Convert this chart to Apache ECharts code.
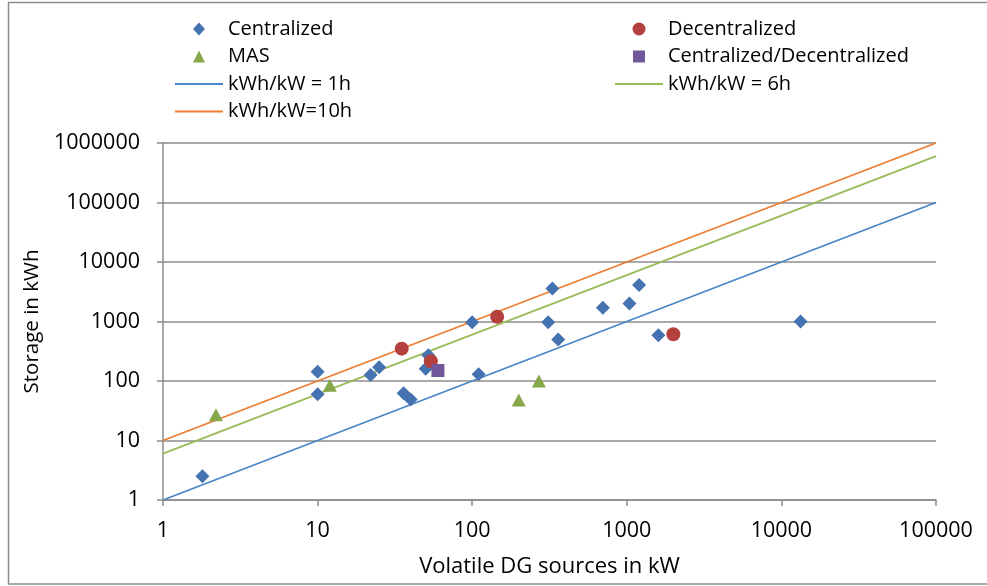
<!DOCTYPE html>
<html>
<head>
<meta charset="utf-8">
<title>Storage vs. volatile DG sources</title>
<script src="https://cdn.jsdelivr.net/npm/echarts@6/dist/echarts.min.js"></script>
<style>
  html, body { margin: 0; padding: 0; background: #fff; }
  #chart { width: 987px; height: 586px; }
</style>
</head>
<body>
<div id="chart"></div>
<script>
// Installed volatile DG capacity (kW) vs. storage (kWh), per project type
const centralized = [
  [1.8, 2.5], [10, 143], [10, 60], [22, 126], [25, 170], [36, 62], [40, 49],
  [52, 270], [50, 160], [100, 970], [110, 130], [330, 3600], [310, 970],
  [360, 500], [700, 1700], [1040, 2000], [1200, 4100], [1600, 590], [13300, 1000]
];
const decentralized = [[35, 350], [54, 215], [145, 1200], [2000, 610]];
const mas = [[2.2, 27], [12, 85], [200, 48], [270, 100]];
const mixed = [[60, 150]];

// Reference ratios storage/power (hours), drawn across the full x range
const xRange = [1, 100000];
const ratio1h = 1;
const ratio6h = 6;
const ratio10h = 10;

const xTicks = ['1', '10', '100', '1000', '10000', '100000'];
const yTicks = ['1', '10', '100', '1000', '10000', '100000', '1000000'];

const ratioLine = r => xRange.map(x => [x, x * r]);

const FONT = 'Open Sans';
const GRID_COLOR = '#8c8c8c';

// Legend icons: a 48x14 box (the corner moves pin the box size) holding
// either a centred marker or a thin horizontal stroke.
const BOX = 'M0,0 L0,0 M48,14 L48,14 ';
const ICON = {
  diamond: 'path://' + BOX + 'M24,0.5 L30,7 L24,13.5 L18,7 Z',
  circle: 'path://' + BOX + 'M30.5,7 A6.5,6.5 0 1 1 17.5,7 A6.5,6.5 0 1 1 30.5,7 Z',
  triangle: 'path://' + BOX + 'M24,1 L30,13 L18,13 Z',
  square: 'path://' + BOX + 'M18,1 L30,1 L30,13 L18,13 Z',
  stroke: 'path://' + BOX + 'M0,6 L48,6 L48,8 L0,8 Z'
};

const chart = echarts.init(document.getElementById('chart'), null, { renderer: 'canvas' });

const legendText = { fontFamily: FONT, fontSize: 20, color: '#000', lineHeight: 18 };

chart.setOption({
  animation: false,
  backgroundColor: '#fff',
  textStyle: { fontFamily: FONT },
  graphic: [{
    type: 'rect',
    shape: { x: 8.5, y: 2.5, width: 990, height: 581.5 },
    style: { fill: 'none', stroke: '#8c8c8c', lineWidth: 1.5 },
    silent: true
  }],
  legend: [
    {
      left: 170, top: 14, orient: 'vertical',
      itemWidth: 48, itemHeight: 14, itemGap: 7.5,
      textStyle: legendText,
      data: [
        { name: 'Centralized', icon: ICON.diamond },
        { name: 'MAS', icon: ICON.triangle },
        { name: 'kWh/kW = 1h', icon: ICON.stroke },
        { name: 'kWh/kW=10h', icon: ICON.stroke }
      ]
    },
    {
      left: 610, top: 14, orient: 'vertical',
      itemWidth: 48, itemHeight: 14, itemGap: 7.5,
      textStyle: legendText,
      data: [
        { name: 'Decentralized', icon: ICON.circle },
        { name: 'Centralized/Decentralized', icon: ICON.square },
        { name: 'kWh/kW = 6h', icon: ICON.stroke }
      ]
    }
  ],
  grid: { left: 163, right: 51, top: 143, bottom: 86, containLabel: false },
  xAxis: {
    type: 'log', logBase: 10, min: 1, max: 100000,
    name: 'Volatile DG sources in kW', nameLocation: 'middle', nameGap: 56,
    nameTextStyle: { fontFamily: FONT, fontSize: 22, color: '#000' },
    axisLine: { lineStyle: { color: GRID_COLOR, width: 1.5 } },
    axisTick: { show: true, length: 6, lineStyle: { color: GRID_COLOR, width: 1.5 } },
    axisLabel: {
      fontFamily: FONT, fontSize: 21.5, color: '#000', margin: 20,
      formatter: v => xTicks[Math.round(Math.log10(v))] || ''
    },
    splitLine: { show: false },
    minorTick: { show: false }
  },
  yAxis: {
    type: 'log', logBase: 10, min: 1, max: 1000000,
    name: 'Storage in kWh', nameLocation: 'middle', nameGap: 116, nameRotate: 90,
    nameTextStyle: { fontFamily: FONT, fontSize: 20.5, color: '#000' },
    axisLine: { show: true, lineStyle: { color: GRID_COLOR, width: 1.5 } },
    axisTick: { show: true, length: 6, lineStyle: { color: GRID_COLOR, width: 1.5 } },
    axisLabel: {
      fontFamily: FONT, fontSize: 21.5, color: '#000', margin: 23,
      formatter: v => yTicks[Math.round(Math.log10(v))] || ''
    },
    splitLine: { show: true, lineStyle: { color: GRID_COLOR, width: 1.5 } }
  },
  series: [
    {
      name: 'kWh/kW = 1h', type: 'line', data: ratioLine(ratio1h),
      symbol: 'none', lineStyle: { color: '#4a86c8', width: 1.8 },
      itemStyle: { color: '#4a86c8' }, z: 2
    },
    {
      name: 'kWh/kW = 6h', type: 'line', data: ratioLine(ratio6h),
      symbol: 'none', lineStyle: { color: '#9bbb59', width: 1.8 },
      itemStyle: { color: '#9bbb59' }, z: 2
    },
    {
      name: 'kWh/kW=10h', type: 'line', data: ratioLine(ratio10h),
      symbol: 'none', lineStyle: { color: '#ed7d31', width: 1.8 },
      itemStyle: { color: '#ed7d31' }, z: 2
    },
    {
      name: 'Centralized', type: 'scatter', data: centralized,
      symbol: 'diamond', symbolSize: 14,
      itemStyle: { color: '#4572b0', opacity: 1 }, z: 3
    },
    {
      name: 'Decentralized', type: 'scatter', data: decentralized,
      symbol: 'circle', symbolSize: 14,
      itemStyle: { color: '#b5413f', opacity: 1 }, z: 3
    },
    {
      name: 'MAS', type: 'scatter', data: mas,
      symbol: 'triangle', symbolSize: [14, 13],
      itemStyle: { color: '#86a84a', opacity: 1 }, z: 3
    },
    {
      name: 'Centralized/Decentralized', type: 'scatter', data: mixed,
      symbol: 'rect', symbolSize: 13,
      itemStyle: { color: '#71589a', opacity: 1 }, z: 3
    }
  ]
});
</script>
</body>
</html>
